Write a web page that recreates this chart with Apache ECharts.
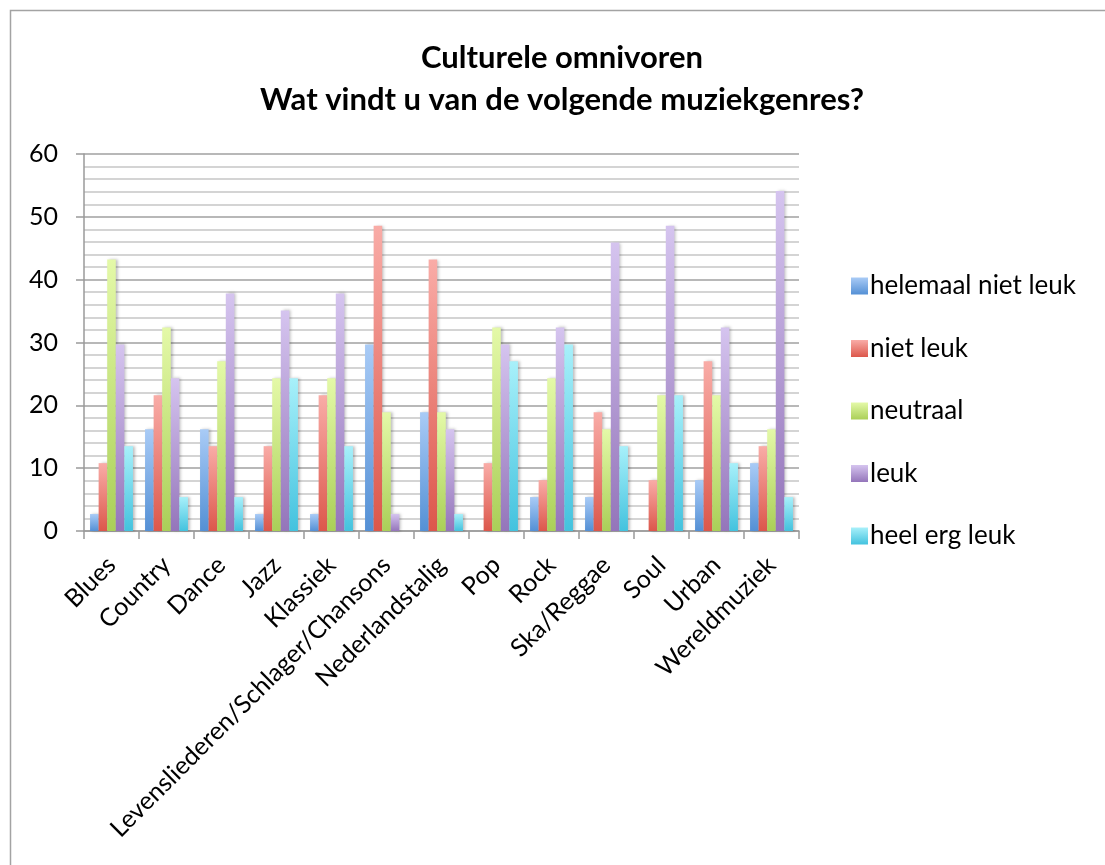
<!DOCTYPE html>
<html>
<head>
<meta charset="utf-8">
<script src="https://cdn.jsdelivr.net/npm/echarts@6/dist/echarts.min.js"></script>
<style>
  html, body { margin: 0; padding: 0; background: #fff; }
  #chart { width: 1105px; height: 865px; }
</style>
</head>
<body>
<div id="chart"></div>
<script>
// genres on the x axis
const categories = ['Blues', 'Country', 'Dance', 'Jazz', 'Klassiek',
  'Levensliederen/Schlager/Chansons', 'Nederlandstalig', 'Pop', 'Rock',
  'Ska/Reggae', 'Soul', 'Urban', 'Wereldmuziek'];

// percentages
const helemaalNietLeuk = [2.7, 16.2, 16.2, 2.7, 2.7, 29.7, 18.9, 0, 5.4, 5.4, 0, 8.1, 10.8];
const nietLeuk = [10.8, 21.6, 13.5, 13.5, 21.6, 48.6, 43.2, 10.8, 8.1, 18.9, 8.1, 27.0, 13.5];
const neutraal = [43.2, 32.4, 27.0, 24.3, 24.3, 18.9, 18.9, 32.4, 24.3, 16.2, 21.6, 21.6, 16.2];
const leuk = [29.7, 24.3, 37.8, 35.1, 37.8, 2.7, 16.2, 29.7, 32.4, 45.9, 48.6, 32.4, 54.1];
const heelErgLeuk = [13.5, 5.4, 5.4, 24.3, 13.5, 0, 2.7, 27.0, 29.7, 13.5, 21.6, 10.8, 5.4];

const seriesNames = ['helemaal niet leuk', 'niet leuk', 'neutraal', 'leuk', 'heel erg leuk'];
const seriesData = [helemaalNietLeuk, nietLeuk, neutraal, leuk, heelErgLeuk];

// top / bottom colours of the gradient fill
const gradients = [
  ['#a9cbf6', '#5490d5'],
  ['#f9aca7', '#dc574b'],
  ['#e4f9a8', '#aacf58'],
  ['#d5c4ef', '#9475ba'],
  ['#a8f0fa', '#43c2de']
];

const FONT = 'Lato';

function grad(c) {
  return new echarts.graphic.LinearGradient(0, 0, 0, 1, [
    { offset: 0, color: c[0] },
    { offset: 1, color: c[1] }
  ]);
}

const chart = echarts.init(document.getElementById('chart'));

chart.setOption({
  animation: false,
  backgroundColor: '#fff',
  textStyle: { fontFamily: FONT, color: '#000' },
  graphic: [{
    type: 'rect',
    shape: { x: 10.5, y: 10.5, width: 1200, height: 1000 },
    style: { fill: 'none', stroke: '#a3a3a3', lineWidth: 1.5 },
    silent: true
  }],
  title: {
    text: 'Culturele omnivoren\nWat vindt u van de volgende muziekgenres?',
    left: 557,
    top: 32,
    textAlign: 'center',
    textStyle: {
      fontFamily: FONT,
      fontWeight: 'bold',
      fontSize: 31,
      lineHeight: 42,
      color: '#000'
    }
  },
  legend: {
    orient: 'vertical',
    left: 846,
    top: 268,
    itemWidth: 17,
    itemHeight: 17,
    itemGap: 36.5,
    icon: 'rect',
    data: seriesNames,
    textStyle: { fontFamily: FONT, fontSize: 26, lineHeight: 25, color: '#000', padding: [0, 0, 0, -3] }
  },
  grid: {
    left: 84,
    right: 306,
    top: 154,
    bottom: 334,
    containLabel: false
  },
  xAxis: {
    type: 'category',
    data: categories,
    axisLine: { lineStyle: { color: '#9a9a9a', width: 1.5 } },
    axisTick: { show: true, length: 8, alignWithLabel: false, lineStyle: { color: '#9a9a9a', width: 1.5 } },
    axisLabel: {
      rotate: 45,
      interval: 0,
      margin: 30,
      fontFamily: FONT,
      fontSize: 25,
      color: '#000'
    }
  },
  yAxis: {
    type: 'value',
    min: 0,
    max: 60,
    interval: 10,
    axisLine: { show: true, lineStyle: { color: '#9a9a9a', width: 1.5 } },
    axisTick: { show: true, length: 8, lineStyle: { color: '#9a9a9a', width: 1.5 } },
    axisLabel: { margin: 26, fontFamily: FONT, fontSize: 25, color: '#000' },
    splitLine: { show: true, lineStyle: { color: '#a0a0a0', width: 1.5 } },
    minorTick: { show: false, splitNumber: 5 },
    minorSplitLine: { show: true, lineStyle: { color: '#c6c6c6', width: 1.5 } }
  },
  series: seriesNames.map((name, i) => ({
    name: name,
    type: 'bar',
    data: seriesData[i],
    barGap: '0%',
    barCategoryGap: '22%',
    itemStyle: {
      color: grad(gradients[i]),
      shadowColor: 'rgba(0,0,0,0.25)',
      shadowBlur: 3,
      shadowOffsetX: 2,
      shadowOffsetY: 0
    }
  }))
});
</script>
</body>
</html>
